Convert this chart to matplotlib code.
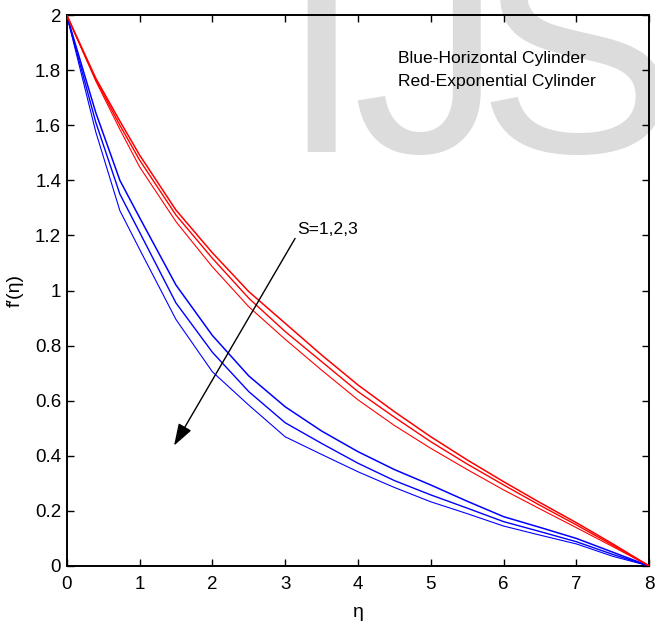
import matplotlib
matplotlib.use("Agg")
import matplotlib.pyplot as plt

# ---- data ----
eta = [0, 0.4, 0.73, 1, 1.5, 2, 2.5, 3, 3.5, 4, 4.5, 5, 5.5, 6, 6.5, 7, 7.5, 8]

blue_s1 = [2, 1.645, 1.40, 1.265, 1.02, 0.837, 0.69, 0.578, 0.49, 0.415, 0.35, 0.294, 0.235, 0.179, 0.14, 0.100, 0.05, 0]
blue_s2 = [2, 1.61, 1.35, 1.212, 0.955, 0.776, 0.633, 0.52, 0.445, 0.373, 0.31, 0.258, 0.21, 0.161, 0.125, 0.088, 0.042, 0]
blue_s3 = [2, 1.575, 1.29, 1.150, 0.895, 0.705, 0.584, 0.469, 0.405, 0.342, 0.285, 0.233, 0.19, 0.145, 0.112, 0.080, 0.035, 0]

red_s1 = [2, 1.77, 1.615, 1.492, 1.292, 1.137, 0.996, 0.881, 0.766, 0.657, 0.56, 0.469, 0.385, 0.306, 0.23, 0.157, 0.08, 0]
red_s2 = [2, 1.765, 1.60, 1.474, 1.274, 1.117, 0.972, 0.851, 0.742, 0.633, 0.54, 0.451, 0.37, 0.294, 0.22, 0.149, 0.075, 0]
red_s3 = [2, 1.76, 1.585, 1.449, 1.25, 1.086, 0.941, 0.823, 0.711, 0.603, 0.51, 0.427, 0.35, 0.276, 0.207, 0.139, 0.07, 0]

xticks = [0, 1, 2, 3, 4, 5, 6, 7, 8]
yticks = [0, 0.2, 0.4, 0.6, 0.8, 1, 1.2, 1.4, 1.6, 1.8, 2]
ytick_labels = ["0", "0.2", "0.4", "0.6", "0.8", "1", "1.2", "1.4", "1.6", "1.8", "2"]

legend_lines = ["Blue-Horizontal Cylinder", "Red-Exponential Cylinder"]
arrow_label = "S=1,2,3"

FONT = ["Liberation Sans", "DejaVu Sans"]
plt.rcParams["font.family"] = FONT

W, H = 655, 629
fig = plt.figure(figsize=(W / 100, H / 100), dpi=100)
fig.patch.set_facecolor("white")

# watermark "IJS" behind everything
wm_color = "#dcdcdc"
wm_base = 1 - 152 / H
for ch, cx in [("I", 320.8), ("J", 427.5), ("S", 576)]:
    fig.text(cx / W, wm_base, ch, fontsize=216, color=wm_color, ha="center",
             va="baseline", zorder=-5)

ax = fig.add_axes([66.7 / W, 1 - 566 / H, (649.3 - 66.7) / W, (566 - 15) / H])
ax.set_facecolor("none")

lw = [1.1, 1.0, 0.8]
for i, ys in enumerate([blue_s1, blue_s2, blue_s3]):
    ax.plot(eta, ys, color=(0, 0, 1), lw=lw[i], zorder=3)
for i, ys in enumerate([red_s1, red_s2, red_s3]):
    ax.plot(eta, ys, color=(1, 0, 0), lw=lw[i], zorder=3)

ax.set_xlim(0, 8)
ax.set_ylim(0, 2)
ax.set_xticks(xticks)
ax.set_xticklabels([str(v) for v in xticks])
ax.set_yticks(yticks)
ax.set_yticklabels(ytick_labels)
ax.tick_params(direction="in", length=5, width=1.0, top=True, right=True,
               labelsize=13.5, colors="black")
ax.tick_params(axis="x", pad=7)
ax.tick_params(axis="y", pad=4)
for s in ax.spines.values():
    s.set_linewidth(1.4)
    s.set_color("black")

ax.set_xlabel("η", fontsize=14, labelpad=8)
ax.set_ylabel("f′(η)", fontsize=14, labelpad=8)

ax.text(4.555, 1.843, legend_lines[0], fontsize=12.6, ha="left", va="center")
ax.text(4.555, 1.758, legend_lines[1], fontsize=12.6, ha="left", va="center")

ax.annotate("", xy=(1.474, 0.437), xytext=(3.136, 1.189),
            arrowprops=dict(arrowstyle="-|>,head_length=0.9,head_width=0.3",
                            color="black", lw=1.0, mutation_scale=15,
                            shrinkA=0, shrinkB=0))
ax.text(3.16, 1.222, arrow_label, fontsize=12.6, ha="left", va="center")

fig.savefig("out.png", dpi=100, facecolor="white")
